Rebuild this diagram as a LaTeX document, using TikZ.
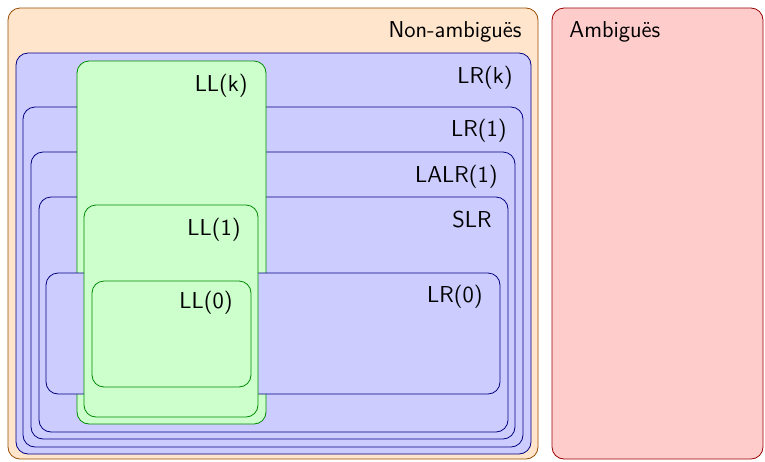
\documentclass[tikz,border=0pt]{standalone}
\usepackage{tikz}

\tikzset{
  region/.style = {rounded corners=6pt},
  nonamb/.style = {region, draw=orange!60!black, fill=orange!20},
  amb/.style    = {region, draw=red!60!black, fill=red!20},
  lrbox/.style  = {region, draw=blue!50!black, fill=blue!20},
  llbox/.style  = {region, draw=green!55!black, fill=green!20},
  lbl/.style    = {anchor=east, inner sep=0pt, font=\sffamily\fontsize{11.5}{14}\selectfont}
}

\begin{document}
\begin{tikzpicture}[x=0.5pt, y=-0.5pt]
\useasboundingbox (0,0) rectangle (765,461);
% grammar classes
\draw[nonamb] (8,8) rectangle (538,459);
\node (nonamb) [lbl] at (522,32) {Non-ambiguës};
\draw[amb] (552,8) rectangle (763,459);
\node (amb) [lbl, anchor=west] at (569,32) {Ambiguës};
% LR family
\draw[lrbox] (16,53) rectangle (531,454);
\node (lrk) [lbl] at (513,78) {LR(k)};
\draw[lrbox] (23,107) rectangle (523,447);
\node (lr1) [lbl] at (507,131) {LR(1)};
\draw[lrbox] (31,152) rectangle (515,439);
\node (lalr) [lbl] at (498,177) {LALR(1)};
\draw[lrbox] (39,197) rectangle (508,432);
\node (slr) [lbl] at (492,220) {SLR};
% LL(k) lies over SLR, under LR(0)
\draw[llbox] (77,61) rectangle (266,424);
\node (llk) [lbl] at (248,86) {LL(k)};
\draw[lrbox] (46,273) rectangle (500,394);
\node (lr0) [lbl] at (483,297) {LR(0)};
\draw[llbox] (84,205) rectangle (258,417);
\node (ll1) [lbl] at (241,230) {LL(1)};
\draw[llbox] (92,281) rectangle (251,387);
\node (ll0) [lbl] at (233,303) {LL(0)};
\end{tikzpicture}
\end{document}
